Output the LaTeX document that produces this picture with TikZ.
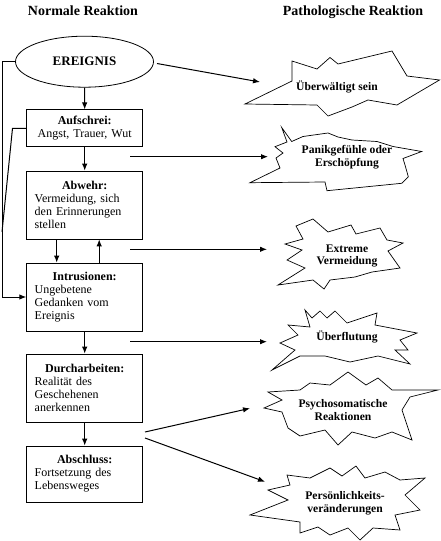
\documentclass[tikz,border=0pt]{standalone}
\usepackage{fontspec}
\setmainfont{Liberation Serif}
\usetikzlibrary{arrows.meta,positioning,calc,shapes.geometric}

\newcommand{\stagehead}[1]{\makebox[\hsize]{\textbf{#1}}\\}

\begin{document}
\begin{tikzpicture}[
    x=1pt, y=-1pt,
    >={Latex[length=7pt,width=5.5pt]},
    flow/.style={->, line width=1pt},
    link/.style={line width=1pt},
    stage/.style={
        draw=black,
        line width=0.8pt,
        text width=100pt,
        inner xsep=8pt,
        inner ysep=2pt,
        align=left,
        font=\fontsize{12}{13}\selectfont
    },
    event/.style={
        draw=black,
        ellipse,
        line width=0.8pt,
        inner sep=0pt,
        minimum width=138pt,
        minimum height=51pt,
        font=\bfseries\fontsize{13}{15}\selectfont
    },
    burst/.style={draw=black, line width=0.7pt, line join=miter},
    burstlabel/.style={align=center, font=\bfseries\fontsize{11.6}{12.9}\selectfont},
    heading/.style={font=\bfseries\fontsize{14}{16}\selectfont}
]

% Stable crop.
\path[use as bounding box] (0,0) rectangle (440,541);

% --------------------------------------------------
% Column headings
% --------------------------------------------------
\node[heading] (normal) at (83,11) {Normale Reaktion};
\node[heading] (patho)  at (353,12) {Pathologische Reaktion};

% --------------------------------------------------
% Normal reaction: event and stages
% --------------------------------------------------
\node[event] (ereignis) at (84.5,61.7) {EREIGNIS};

\node[stage, align=center, minimum height=37pt] (aufschrei) at (84.7,128.3)
    {\textbf{Aufschrei:}\\Angst, Trauer, Wut};
\node[stage, minimum height=68pt] (abwehr) at (84.7,205)
    {\stagehead{Abwehr:}Vermeidung, sich\\den Erinnerungen\\stellen};
\node[stage, minimum height=68pt] (intrusion) at (84.7,297)
    {\stagehead{Intrusionen:}Ungebetene\\Gedanken vom\\Ereignis};
\node[stage, minimum height=68pt] (durch) at (84.7,388)
    {\stagehead{Durcharbeiten:}Realität des\\Geschehenen\\anerkennen};
\node[stage, minimum height=56pt] (abschluss) at (84.7,474)
    {\stagehead{Abschluss:}Fortsetzung des\\Lebensweges};

% --------------------------------------------------
% Pathological reaction: starbursts
% --------------------------------------------------
\draw[burst] (245,104) -- (292,81) -- (292,61) -- (317,69) -- (330,57.5)
    -- (338,64) -- (392,51) -- (407,76) -- (439.5,80) -- (397,105)
    -- (368,100) -- (352,107) -- (328,116) -- (317,105) -- cycle;
\node[burstlabel] (overwhelm) at (337,87) {Überwältigt sein};

\draw[burst] (250,182.7) -- (280,168) -- (276,158) -- (283,153) -- (275,146.7)
    -- (287,142) -- (281.7,127.5) -- (291.7,141.5) -- (303,136.5) -- (328,133)
    -- (338,137) -- (352,140) -- (377,141.5) -- (393,146.5) -- (421.7,151.5)
    -- (403,158.5) -- (405,165) -- (408.3,176.7) -- (401.7,183.3)
    -- (327,190.7) -- (325,182) -- cycle;
\node[burstlabel] (panic) at (347,157) {Panikgefühle oder\\Erschöpfung};

\draw[burst] (313,219) -- (328,232) -- (351,225) -- (356,234) -- (380,228)
    -- (387,240) -- (403,243) -- (388,251) -- (400,268) -- (372,272)
    -- (355,277) -- (330,280) -- (324,289) -- (313,280) -- (278,285)
    -- (305,268) -- (287,260) -- (302,250) -- (285,244) -- (303,239)
    -- (296,226) -- cycle;
\node[burstlabel] (avoid) at (347,256) {Extreme\\Vermeidung};

\draw[burst] (305,310) -- (312,318) -- (320,311) -- (327,318) -- (335,311)
    -- (347,323) -- (377,313) -- (375,325) -- (417,333) -- (400,340)
    -- (408,350) -- (395,350) -- (410,364) -- (378,356) -- (350,362)
    -- (325,356) -- (300,356) -- (272,370) -- (295,350) -- (280,343)
    -- (298,335) -- (288,325) -- (310,327) -- cycle;
\node[burstlabel] (flood) at (347,337) {Überflutung};

\draw[burst] (348,372) -- (366,385) -- (378,378) -- (392,390) -- (438,390)
    -- (410,397) -- (402,410) -- (412,440) -- (392,432) -- (375,438)
    -- (352,432) -- (338,445) -- (325,430) -- (300,436) -- (288,428)
    -- (282,412) -- (264,408) -- (282,400) -- (268,392) -- (300,390)
    -- (310,383) -- (330,385) -- cycle;
\node[burstlabel] (psycho) at (343,410) {Psychosomatische\\Reaktionen};

\draw[burst] (330,468) -- (342,476) -- (356,466) -- (365,478) -- (385,472)
    -- (400,480) -- (425,478) -- (405,495) -- (420,510) -- (395,515)
    -- (400,530) -- (373,528) -- (360,540) -- (348,528) -- (330,535)
    -- (318,527) -- (300,533) -- (300,522) -- (250,515) -- (288,500)
    -- (268,490) -- (290,485) -- (287,475) -- (310,478) -- cycle;
\node[burstlabel] (person) at (345,503) {Persönlichkeits-\\veränderungen};

% Helper coordinates for the free ends of the cross arrows.
\coordinate (a1s) at (157,63.5);  \coordinate (a1e) at (260,82);
\coordinate (a2s) at (130,156.7); \coordinate (a2e) at (268,156.7);
\coordinate (a3s) at (130,249.3); \coordinate (a3e) at (267,249.3);
\coordinate (a4s) at (130,341.7); \coordinate (a4e) at (267,341.7);
\coordinate (a5s) at (145,432);   \coordinate (a5e) at (250,408.3);
\coordinate (a6s) at (145,438);   \coordinate (a6e) at (265,481.7);
% Feedback path on the left edge.
\coordinate (loopbot) at (2,297);
\coordinate (cryback) at (12.5,128.3);
\coordinate (merge) at (2,232);

% --------------------------------------------------
% Stage arrows
% --------------------------------------------------
\draw[flow] (ereignis.south) -- (aufschrei.north);
\draw[flow] (aufschrei.south) -- (abwehr.north);
\draw[flow] ([xshift=-28pt]abwehr.south) -- ([xshift=-28pt]intrusion.north);
\draw[flow] ([xshift=14.5pt]intrusion.north) -- ([xshift=14.5pt]abwehr.south);
\draw[flow] (intrusion.south) -- (durch.north);
\draw[flow] (durch.south) -- (abschluss.north);

% Return lines into the intrusions.
\draw[flow] (ereignis.west) -| (loopbot) -- (intrusion.west);
\draw[link] (aufschrei.west) -- (cryback) -- (merge);

% --------------------------------------------------
% Arrows to the pathological reactions
% --------------------------------------------------
\draw[flow] (a1s) -- (a1e);
\draw[flow] (a2s) -- (a2e);
\draw[flow] (a3s) -- (a3e);
\draw[flow] (a4s) -- (a4e);
\draw[flow] (a5s) -- (a5e);
\draw[flow] (a6s) -- (a6e);

\end{tikzpicture}
\end{document}
